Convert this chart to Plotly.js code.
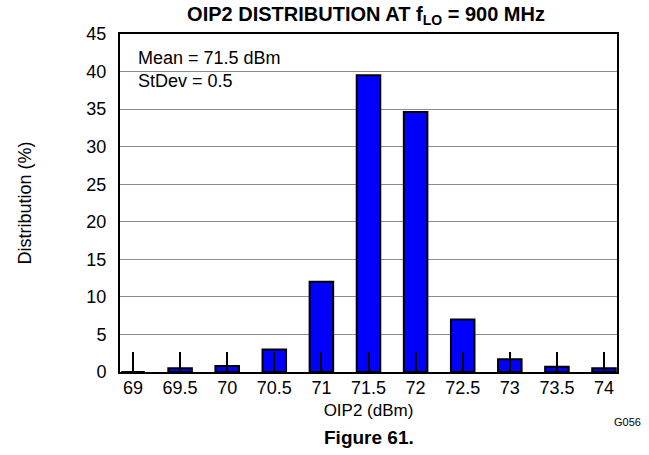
<!DOCTYPE html>
<html><head><meta charset="utf-8">
<script src="https://cdn.plot.ly/plotly-3.0.1.min.js"></script>
<style>body{margin:0;background:#fff}#chart{width:649px;height:455px}</style>
</head><body><div id="chart"></div>
<script>
const oip2 = [69, 69.5, 70, 70.5, 71, 71.5, 72, 72.5, 73, 73.5, 74];
const distribution = [0, 0.5, 0.8, 3.0, 12.0, 39.5, 34.6, 7.0, 1.7, 0.7, 0.5];
const tickLabels = ['69', '69.5', '70', '70.5', '71', '71.5', '72', '72.5', '73', '73.5', '74'];
const yTicks = [0, 5, 10, 15, 20, 25, 30, 35, 40, 45];

const font = 'Liberation Sans, Arial, sans-serif';
const trace = {
  type: 'bar', x: oip2, y: distribution, width: 0.25,
  marker: {color: '#0000ff', line: {color: '#000', width: 2}},
  hoverinfo: 'x+y'
};
const layout = {
  width: 649, height: 455,
  margin: {l: 120, r: 32, t: 34, b: 83},
  paper_bgcolor: '#fff', plot_bgcolor: '#fff',
  showlegend: false,
  font: {family: font, color: '#000'},
  title: {text: '<b>OIP2 DISTRIBUTION AT f<sub>LO</sub> = 900 MHz</b>', font: {size: 20, family: font},
          x: 0.564, xanchor: 'center', y: 0.97, yanchor: 'middle'},
  xaxis: {range: [68.862, 74.138], tickvals: oip2, ticktext: tickLabels,
          ticks: 'inside', ticklen: 20, tickwidth: 2, tickcolor: '#000',
          showline: true, linecolor: '#000', linewidth: 2, mirror: true,
          showgrid: false, zeroline: false, tickfont: {size: 18, family: font}, ticklabelstandoff: -2,
          title: {text: 'OIP2 (dBm)', font: {size: 17, family: font}, standoff: 8}},
  yaxis: {range: [0, 45], tickvals: yTicks, ticks: '', showline: true, linecolor: '#000', linewidth: 2, mirror: true,
          showgrid: true, gridcolor: '#8c8c8c', gridwidth: 1, zeroline: false,
          tickfont: {size: 18, family: font}, ticklabelstandoff: 8,
          title: {text: 'Distribution (%)', font: {size: 18, family: font}, standoff: 50}},
  shapes: [{type: 'rect', xref: 'paper', yref: 'paper', x0: 0.003, x1: 0.352, y0: 0.82, y1: 0.997,
            fillcolor: '#fff', line: {width: 0}, layer: 'between'}],
  annotations: [
    {text: 'Mean = 71.5 dBm<br>StDev = 0.5', xref: 'paper', yref: 'paper', x: 0.032, y: 0.965,
     xanchor: 'left', yanchor: 'top', align: 'left', showarrow: false, font: {size: 18, family: font}},
    {text: 'G056', xref: 'paper', yref: 'paper', x: 1.022, y: -0.148, xanchor: 'center', yanchor: 'middle',
     showarrow: false, font: {size: 11, family: font}},
    {text: '<b>Figure 61.</b>', xref: 'paper', yref: 'paper', x: 0.5, y: -0.195, xanchor: 'center', yanchor: 'middle',
     showarrow: false, font: {size: 19, family: font}}
  ]
};
Plotly.newPlot('chart', [trace], layout, {displayModeBar: false, staticPlot: true});
</script></body></html>
